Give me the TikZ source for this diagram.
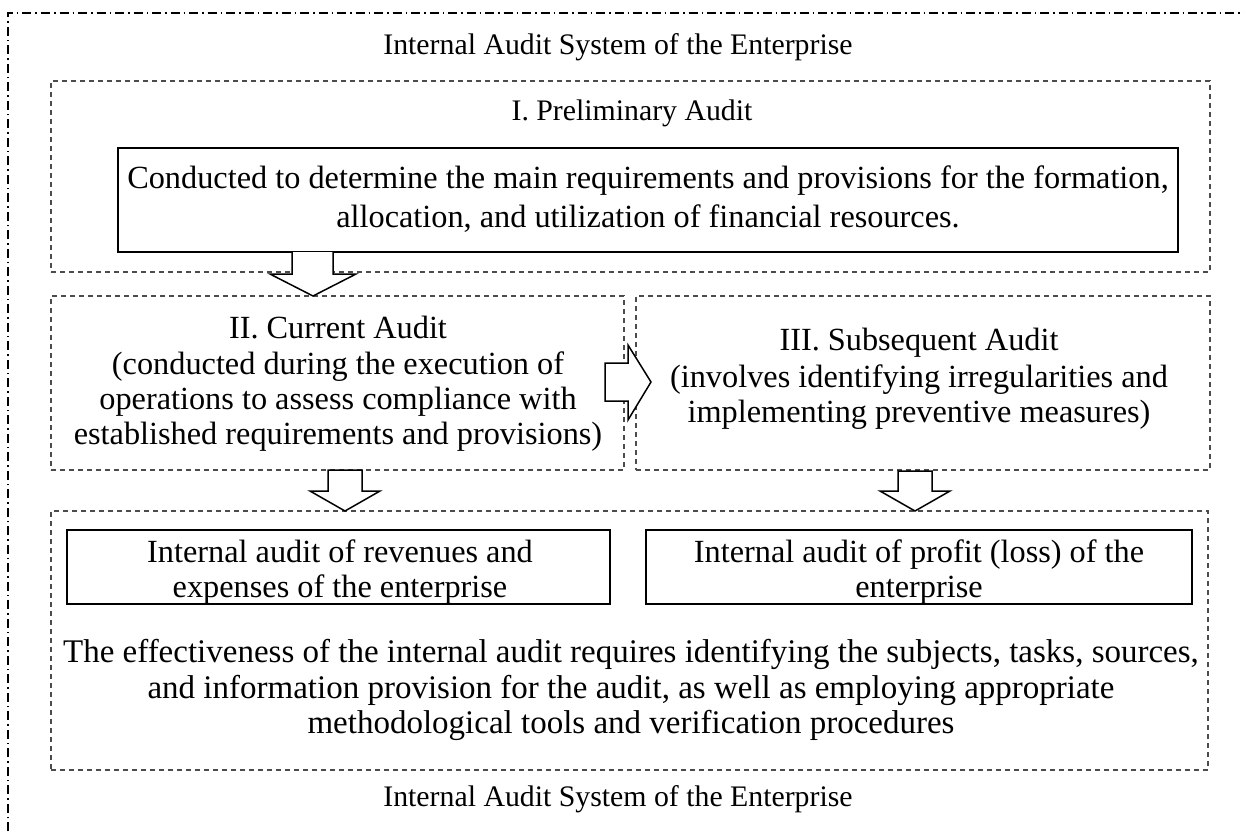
\documentclass[tikz,border=0pt]{standalone}
\usepackage{fontspec}
\setmainfont{Liberation Serif}
\usetikzlibrary{positioning}
\tikzset{
  dashbox/.style={draw=black!70, line width=1.1pt, dash pattern=on 5pt off 4pt, inner sep=0pt},
  solidbox/.style={draw, line width=1.5pt, align=center, inner sep=0pt},
  txt/.style={align=center, inner sep=0pt},
  head/.style={txt, font=\fontsize{29.8}{35}\selectfont},
  blockarrow/.style={draw, line width=1.5pt, fill=white, line join=miter}
}

\begin{document}
\begin{tikzpicture}[x=1pt,y=-1pt]
      \fontsize{32.3}{35.3}\selectfont
      \useasboundingbox (0,0) rectangle (1244,831);
      \draw[line width=1.2pt, dash pattern=on 9pt off 4pt on 1.5pt off 4pt] (8,831) -- (8,13) -- (1244,13);

      \node[head] (sysT) at (618,47) {Internal Audit System of the Enterprise};
      \node[head] (sysB) at (618,799) {Internal Audit System of the Enterprise};

      % I. preliminary
      \node[dashbox, minimum width=1159pt, minimum height=191pt] (pre) at (630.5,176.5) {};
      \node[head] (preT) at (632,113) {I. Preliminary Audit};
      \node[solidbox, minimum width=1060pt, minimum height=104pt] (preB) at (648,200) {};
      \node[txt] (preX) at (648,199)
        {Conducted to determine the main requirements and provisions for the formation,\\[3.2pt]
         allocation, and utilization of financial resources.};

      % II. and III.
      \node[dashbox, minimum width=573pt, minimum height=174pt] (cur) at (337.5,383) {};
      \node[txt] (curT) at (338,384) {II. Current Audit\\(conducted during the execution of\\
        operations to assess compliance with\\established requirements and provisions)};
      \node[dashbox, minimum width=574pt, minimum height=174pt] (sub) at (923,383) {};
      \node[txt] (subT) at (919,379) {III. Subsequent Audit\\[1.5pt](involves identifying irregularities and\\
        implementing preventive measures)};

      % results
      \node[dashbox, minimum width=1157pt, minimum height=259pt] (res) at (629.5,640.5) {};
      \node[solidbox, minimum width=543pt, minimum height=74pt] (revB) at (338.5,567) {};
      \node[txt] (revT) at (340,572) {Internal audit of revenues and\\expenses of the enterprise};
      \node[solidbox, minimum width=546pt, minimum height=74pt] (proB) at (919,567) {};
      \node[txt] (proT) at (919,572) {Internal audit of profit (loss) of the\\enterprise};
      \node[txt, font=\fontsize{33}{35.3}\selectfont] (resT) at (631,690) {The effectiveness of the internal audit requires identifying the subjects, tasks, sources,\\
        and information provision for the audit, as well as employing appropriate\\
        methodological tools and verification procedures};

      % block arrows
      \filldraw[blockarrow] (292,252) -- (292,274) -- (270,274) -- (313,296) -- (356,274) -- (333,274) -- (333,252);
      \filldraw[blockarrow] (605,363) -- (628,363) -- (628,345) -- (651,382) -- (628,420) -- (628,401) -- (605,401) -- cycle;
      \filldraw[blockarrow] (328,470) -- (328,491) -- (310,491) -- (345,511) -- (380,491) -- (362,491) -- (362,470) -- cycle;
      \filldraw[blockarrow] (898,471) -- (898,491) -- (880,491) -- (915,511) -- (950,491) -- (932,491) -- (932,471) -- cycle;
\end{tikzpicture}
\end{document}
